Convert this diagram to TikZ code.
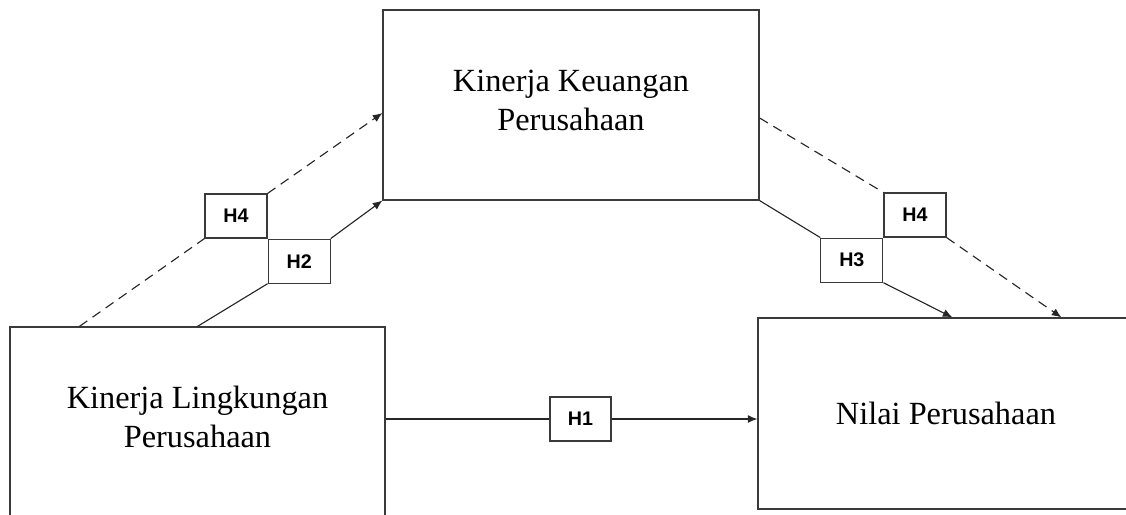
\documentclass[tikz,border=0pt]{standalone}
\usepackage{fontspec}
\setmainfont{Liberation Serif}
\newfontfamily\hfont{Liberation Sans}
\usetikzlibrary{arrows.meta,positioning}
\definecolor{Edge}{HTML}{3A3A3A}

\begin{document}
\begin{tikzpicture}[
        x=0.025cm, y=-0.025cm,
        varbox/.style={draw=Edge, line width=0.8pt, minimum width=9.4cm, minimum height=4.75cm,
          align=center, font=\fontsize{23}{27.7}\selectfont},
        hbox/.style={draw=Edge, line width=0.8pt, fill=white, minimum width=1.55cm, minimum height=1.1cm,
          inner sep=0pt, font=\hfont\bfseries\fontsize{14}{16}\selectfont},
        arrow/.style={-{Latex[length=2.4mm, width=2mm]}},
        link/.style={draw=black!85, line width=0.8pt},
        indirect/.style={link, dash pattern=on 2.4mm off 1.6mm}
      ]
        \useasboundingbox (0,0) rectangle (1126,514);
        \begin{scope}
          \clip (0,0) rectangle (1126,514);
          \node[varbox, text depth=7pt] (fin) at (571,105) {Kinerja Keuangan\\Perusahaan};
          \node[varbox, text depth=7pt, minimum width=9.375cm, minimum height=4.725cm] (env) at (197.5,421.5) {Kinerja Lingkungan\\Perusahaan};
          \node[varbox, minimum height=4.775cm] (nilai) at (946,413.5) {Nilai Perusahaan};
        \end{scope}
        \node[hbox] (h4l) at (236,216) {H4};
        \node[hbox, anchor=north west] (h2) at (h4l.south east) {H2};
        \node[hbox] (h4r) at (915,215) {H4};
        \node[hbox, anchor=north east] (h3) at (h4r.south west) {H3};
        \node[hbox, minimum width=1.525cm] (h1) at (580.5,419) {H1};
        % environmental performance to financial performance
        \draw[indirect] ([xshift=1.75cm]env.north west) -- (h4l.south west);
        \draw[indirect, arrow] (h4l.north east) -- ([yshift=-0.2cm]fin.west);
        \draw[link] ([xshift=4.7cm]env.north west) -- (h2.south west);
        \draw[link, arrow] (h2.north east) -- (fin.south west);
        % financial performance to firm value
        \draw[link] (fin.south east) -- (h3.north west);
        \draw[link, arrow] (h3.south east) -- ([xshift=4.875cm]nilai.north west);
        \draw[indirect] ([yshift=-0.325cm]fin.east) -- (h4r.north west);
        \draw[indirect, arrow] (h4r.south east) -- ([xshift=7.6cm]nilai.north west);
        % direct path
        \draw[link] (h1.west -| env.east) -- (h1.west);
        \draw[link, arrow] (h1.east) -- (h1.east -| nilai.west);
      \end{tikzpicture}
\end{document}
